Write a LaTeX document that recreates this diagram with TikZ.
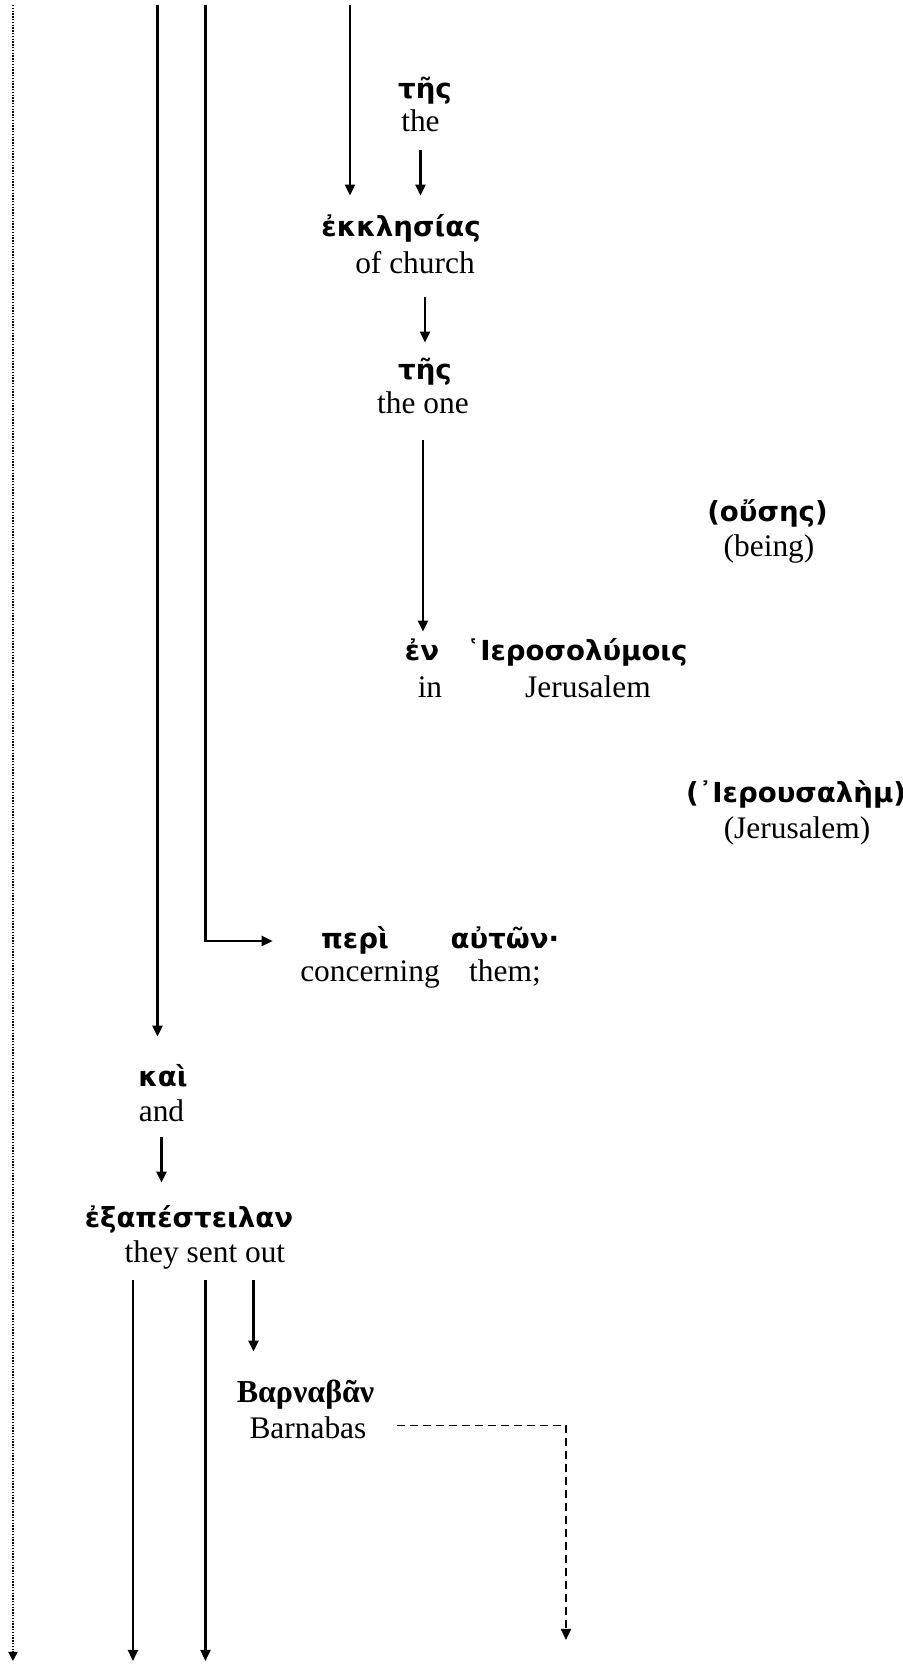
\documentclass[tikz,border=0pt]{standalone}
\usepackage{fontspec}
\setmainfont{Liberation Serif}
\newfontfamily\grkfont{DejaVu Sans}
\newfontfamily\grkserif{Liberation Serif}
\usetikzlibrary{arrows.meta}

\tikzset{
	greek/.style={inner sep=0pt, anchor=base, text height=10pt, text depth=3pt, font={\grkfont\bfseries\fontsize{13.8}{16}\selectfont}},
	greekserif/.style={greek, font={\grkserif\bfseries\fontsize{16}{18}\selectfont}},
	gloss/.style={inner sep=0pt, anchor=base, text height=11pt, text depth=3.5pt, font={\fontsize{15.7}{18}\selectfont}},
	link/.style={line width=1.1pt, -{Triangle[length=5.5pt, width=5pt]}},
	trace/.style={line width=0.9pt, dash pattern=on 0.7pt off 0.7pt, -{Triangle[length=4.5pt, width=4.5pt]}},
	shared/.style={line width=0.9pt, dash pattern=on 4pt off 2.5pt, -{Triangle[length=5.5pt, width=5pt]}}
}

\begin{document}
\begin{tikzpicture}
				% Words, glosses and links:
				\useasboundingbox (0, 0) rectangle (15.868, 29.242);
				\coordinate (dotTop) at (0.228, 29.154);
				\coordinate (lineA) at (2.768, 29.154);
				\coordinate (lineB) at (3.611, 29.154);
				\coordinate (lineC) at (6.151, 29.154);
				\coordinate (bottom) at (0, 0.053);
				\coordinate (sentA) at (2.337, 6.748);
				\coordinate (sentB) at (3.611, 6.748);
				\coordinate (sentC) at (4.455, 6.748);
				\coordinate (barnEnd) at (9.946, 0.422);
				\node[greek] (tes1) at (7.469, 27.519){τῆς};
				\node[gloss] (the1) at (7.389, 26.939){the};
				\node[greek] (ekk) at (7.047, 25.094){ἐκκλησίας};
				\node[gloss] (church) at (7.293, 24.444){of church};
				\node[greek] (tes2) at (7.469, 22.564){τῆς};
				\node[gloss] (theone) at (7.433, 21.984){the one};
				\node[greek] (ouses) at (13.487, 20.086){(οὔσης)};
				\node[gloss] (being) at (13.514, 19.471){(being)};
				\node[greek] (en) at (7.416, 17.626){ἐν};
				\node[gloss] (in) at (7.556, 16.976){in};
				\node[greek] (hier) at (10.140, 17.626){῾Ιεροσολύμοις};
				\node[gloss] (jer1) at (10.333, 16.976){Jerusalem};
				\node[greek] (ierous) at (13.988, 15.148){(᾿Ιερουσαλὴμ)};
				\node[gloss] (jer2) at (14.006, 14.498){(Jerusalem)};
				\node[greek] (peri) at (6.238, 12.582){περὶ};
				\node[gloss] (conc) at (6.502, 11.985){concerning};
				\node[greek] (auton) at (8.874, 12.582){αὐτῶν·};
				\node[gloss] (them) at (8.874, 11.985){them;};
				\node[greek] (kai) at (2.864, 10.157){καὶ};
				\node[gloss] (and) at (2.838, 9.525){and};
				\node[greek] (exap) at (3.321, 7.679){ἐξαπέστειλαν};
				\node[gloss] (sent) at (3.602, 7.047){they sent out};
				\node[greekserif] (barn) at (5.369, 4.604){Βαρναβᾶν};
				\node[gloss] (barnabas) at (5.412, 3.954){Barnabas};
				\draw[trace] (dotTop) -- (dotTop |- bottom);
				\draw[link, shorten >=14.5pt] (lineA) -- (lineA |- kai.north);
				\draw[link, shorten >=24pt] (lineB) |- (peri.west);
				\draw[link, shorten >=10pt] (lineC) -- (lineC |- ekk.north);
				\draw[link, shorten <=6pt, shorten >=10pt] (the1.south) -- (the1.south |- ekk.north);
				\draw[link, shorten <=8.5pt, shorten >=8.5pt] (tes2.north |- church.south) -- (tes2.north);
				\draw[link, shorten <=10pt, shorten >=4.5pt] (theone.south) -- (theone.south |- en.north);
				\draw[link, shorten <=4pt, shorten >=12pt] (and.south) -- (and.south |- exap.north);
				\draw[link] (sentA) -- (sentA |- bottom);
				\draw[link] (sentB) -- (sentB |- bottom);
				\draw[link, shorten >=15pt] (sentC) -- (sentC |- barn.north);
				\draw[shared] ([xshift=15pt, yshift=3pt]barnabas.east) -| (barnEnd);
			\end{tikzpicture}
\end{document}
